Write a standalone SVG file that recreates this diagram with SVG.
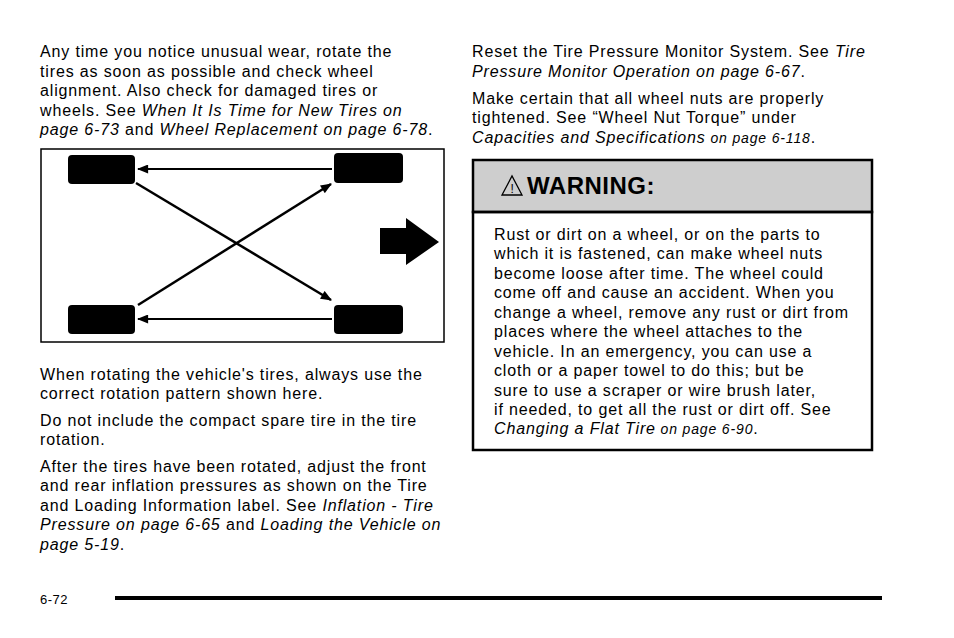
<svg xmlns="http://www.w3.org/2000/svg" width="954" height="638" viewBox="0 0 954 638">
<style>
text{font-family:"Liberation Sans",Arial,sans-serif;font-size:16px;fill:#000;letter-spacing:0.85px}
.i{font-style:italic}
.s{font-size:14px}
.tire{fill:#000}
</style>
<defs>
<marker id="ah2" viewBox="0 0 10 8" markerWidth="12" markerHeight="9" refX="9" refY="4" orient="auto" markerUnits="userSpaceOnUse"><path d="M0,0L10,4L0,8z" fill="#000"/></marker></defs>
<rect width="954" height="638" fill="#fff"/>
<text x="40" y="57">Any time you notice unusual wear, rotate the</text>
<text x="40" y="77">tires as soon as possible and check wheel</text>
<text x="40" y="96">alignment. Also check for damaged tires or</text>
<text x="40" y="116">wheels. See <tspan class="i">When It Is Time for New Tires on</tspan></text>
<text x="40" y="135"><tspan class="i">page 6-73</tspan> and <tspan class="i">Wheel Replacement on page 6-78</tspan>.</text>
<rect x="41" y="149" width="403" height="193" fill="none" stroke="#000" stroke-width="1.5"/>
<g id="tire-fl"><rect class="tire" x="68" y="155" width="67" height="29" rx="4"/></g>
<g id="tire-fr"><rect class="tire" x="334" y="153" width="69" height="30" rx="4"/></g>
<g id="tire-rl"><rect class="tire" x="68" y="305" width="67" height="29" rx="4"/></g>
<g id="tire-rr"><rect class="tire" x="334" y="305" width="69" height="29" rx="4"/></g>
<g id="dir"><path d="M380,228H406V218L439,242L406,265V254H380z" fill="#000"/></g>
<g id="connectors">
<line x1="332" y1="169" x2="138" y2="169" stroke="#000" stroke-width="2" marker-end="url(#ah2)"/>
<line x1="332" y1="319" x2="138" y2="319" stroke="#000" stroke-width="2" marker-end="url(#ah2)"/>
<line x1="136" y1="183" x2="331" y2="300" stroke="#000" stroke-width="2.5" marker-end="url(#ah2)"/>
<line x1="138" y1="305" x2="331" y2="184" stroke="#000" stroke-width="2.5" marker-end="url(#ah2)"/>
</g>
<text x="40" y="380">When rotating the vehicle's tires, always use the</text>
<text x="40" y="399">correct rotation pattern shown here.</text>
<text x="40" y="426">Do not include the compact spare tire in the tire</text>
<text x="40" y="445">rotation.</text>
<text x="40" y="472">After the tires have been rotated, adjust the front</text>
<text x="40" y="491">and rear inflation pressures as shown on the Tire</text>
<text x="40" y="511">and Loading Information label. See <tspan class="i">Inflation - Tire</tspan></text>
<text x="40" y="530"><tspan class="i">Pressure on page 6-65</tspan> and <tspan class="i">Loading the Vehicle on</tspan></text>
<text x="40" y="550"><tspan class="i">page 5-19</tspan>.</text>
<text x="472" y="57">Reset the Tire Pressure Monitor System. See <tspan class="i">Tire</tspan></text>
<text x="472" y="77"><tspan class="i">Pressure Monitor Operation on page 6-67</tspan>.</text>
<text x="472" y="104">Make certain that all wheel nuts are properly</text>
<text x="472" y="123">tightened. See “Wheel Nut Torque” under</text>
<text x="472" y="143"><tspan class="i">Capacities and Specifications</tspan><tspan class="i s"> on page 6-118</tspan>.</text>
<g id="warning">
<rect x="473" y="160" width="399" height="52" fill="#cecece" stroke="#000" stroke-width="2.5"/>
<rect x="473" y="212" width="399" height="238" fill="none" stroke="#000" stroke-width="2.5"/>
<path d="M502,195L512,176L522,195z" fill="none" stroke="#000" stroke-width="1.3"/>
<text x="510.5" y="193" style="font-size:12px;letter-spacing:0">!</text>
<text x="527" y="194" style="font-size:24px;font-weight:bold;letter-spacing:0.5px">WARNING:</text>
<text x="494" y="240">Rust or dirt on a wheel, or on the parts to</text>
<text x="494" y="259">which it is fastened, can make wheel nuts</text>
<text x="494" y="279">become loose after time. The wheel could</text>
<text x="494" y="298">come off and cause an accident. When you</text>
<text x="494" y="318">change a wheel, remove any rust or dirt from</text>
<text x="494" y="337">places where the wheel attaches to the</text>
<text x="494" y="357">vehicle. In an emergency, you can use a</text>
<text x="494" y="376">cloth or a paper towel to do this; but be</text>
<text x="494" y="396">sure to use a scraper or wire brush later,</text>
<text x="494" y="415">if needed, to get all the rust or dirt off. See</text>
<text x="494" y="434"><tspan class="i">Changing a Flat Tire</tspan><tspan class="i s"> on page 6-90</tspan>.</text>
</g>
<text x="40" y="604" style="font-size:13px;letter-spacing:0.5px">6-72</text>
<rect x="115" y="596" width="767" height="4" fill="#000"/>
</svg>
